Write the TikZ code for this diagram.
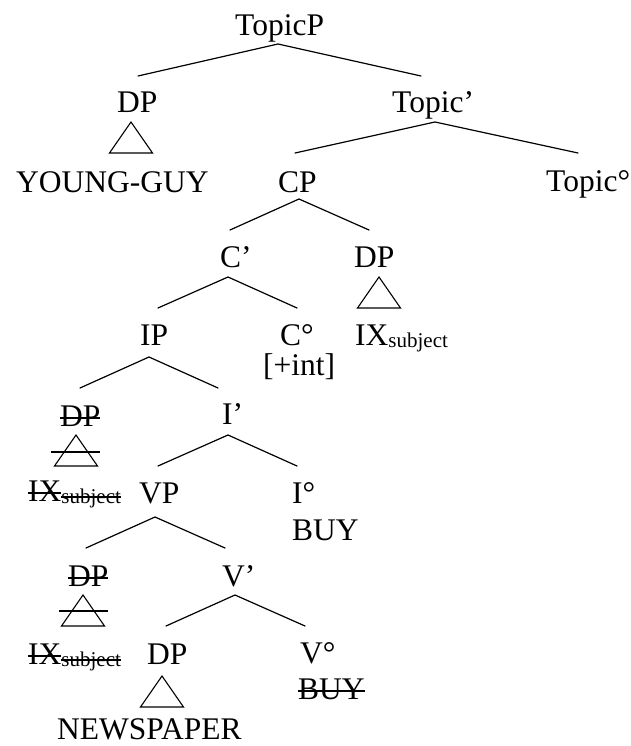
\documentclass[tikz,border=0pt]{standalone}
\usepackage{fontspec}
\setmainfont{Liberation Serif}
% subscript size
\newcommand\subsz{\fontsize{21}{21}\selectfont}
% strike a text through at a given height above its baseline
\newcommand\strikeat[2]{\setbox0\hbox{#2}\rlap{\rule[#1]{\wd0}{1.8pt}}\box0}
\begin{document}
\begin{tikzpicture}[x=1pt,y=-1pt,
  lbl/.style={anchor=base west, inner sep=0pt, font=\fontsize{31.5}{31.5}\selectfont},
  edge/.style={line width=1.2pt, line cap=round},
  strike/.style={line width=1.8pt}]
\useasboundingbox (0,0) rectangle (631,746);

% labels
\node[lbl] (topicp)    at (235,36)  {TopicP};
\node[lbl] (dpa)       at (117,113) {DP};
\node[lbl] (topicbar)  at (392,113) {Topic’};
\node[lbl] (younguy)   at (16,192)  {YOUNG-GUY};
\node[lbl] (cp)        at (278,192) {CP};
\node[lbl] (topichead) at (546,191) {Topic°};
\node[lbl] (cbar)      at (220,267) {C’};
\node[lbl] (dpb)       at (354,267) {DP};
\node[lbl] (ip)        at (140,345) {IP};
\node[lbl] (chead)     at (280,345) {C°};
\node[lbl] (ixb)       at (355,345) {IX\raisebox{-2pt}{\subsz subject}};
\node[lbl] (int)       at (263,375) {[+int]};
\node[lbl] (dpc)       at (60,426)  {\strikeat{7.5pt}{DP}};
\node[lbl] (ibar)      at (222,424) {I’};
\node[lbl] (ixc)       at (28,501)  {\strikeat{7pt}{IX}\raisebox{-2pt}{\subsz\strikeat{5pt}{subject}}};
\node[lbl] (vp)        at (139,503) {VP};
\node[lbl] (ihead)     at (292,503) {I°};
\node[lbl] (buy)       at (292,540) {BUY};
\node[lbl] (dpd)       at (68,586)  {\strikeat{7.5pt}{DP}};
\node[lbl] (vbar)      at (222,586) {V’};
\node[lbl] (ixd)       at (28,664)  {\strikeat{7pt}{IX}\raisebox{-2pt}{\subsz\strikeat{5pt}{subject}}};
\node[lbl] (dpe)       at (147,664) {DP};
\node[lbl] (vhead)     at (300,663) {V°};
\node[lbl] (buyd)      at (298,699) {\strikeat{7.5pt}{BUY}};
\node[lbl] (newspaper) at (57,739)  {NEWSPAPER};

% branch points
\coordinate (topicp-a) at (278,44);  \coordinate (topicp-l) at (138,76);  \coordinate (topicp-r) at (421,76);
\coordinate (tbar-a)   at (435,122); \coordinate (tbar-l)   at (295,153); \coordinate (tbar-r)   at (578,153);
\coordinate (cp-a)     at (299,199); \coordinate (cp-l)     at (230,230); \coordinate (cp-r)     at (369,230);
\coordinate (cbar-a)   at (228,277); \coordinate (cbar-l)   at (158,308); \coordinate (cbar-r)   at (297,308);
\coordinate (ip-a)     at (149,357); \coordinate (ip-l)     at (80,388);  \coordinate (ip-r)     at (218,388);
\coordinate (ibar-a)   at (228,435); \coordinate (ibar-l)   at (158,466); \coordinate (ibar-r)   at (297,466);
\coordinate (vp-a)     at (155,517); \coordinate (vp-l)     at (86,548);  \coordinate (vp-r)     at (225,548);
\coordinate (vbar-a)   at (235,595); \coordinate (vbar-l)   at (166,626); \coordinate (vbar-r)   at (305,626);

\draw[edge] (topicp-l) -- (topicp-a) -- (topicp-r);
\draw[edge] (tbar-l) -- (tbar-a) -- (tbar-r);
\draw[edge] (cp-l) -- (cp-a) -- (cp-r);
\draw[edge] (cbar-l) -- (cbar-a) -- (cbar-r);
\draw[edge] (ip-l) -- (ip-a) -- (ip-r);
\draw[edge] (ibar-l) -- (ibar-a) -- (ibar-r);
\draw[edge] (vp-l) -- (vp-a) -- (vp-r);
\draw[edge] (vbar-l) -- (vbar-a) -- (vbar-r);

% roof triangles
\coordinate (roof-a) at (131,122);
\coordinate (roof-b) at (379,277);
\coordinate (roof-c) at (76,435);
\coordinate (roof-d) at (83,595);
\coordinate (roof-e) at (162,676);
\foreach \r in {a,b,c,d,e}
  \draw[line width=1.1pt, line join=miter] (roof-\r) -- ++(-21.5,31) -- ++(43,0) -- cycle;
\draw[strike] ([xshift=-25pt,yshift=-17pt]roof-c) -- ++(49,0);
\draw[strike] ([xshift=-24pt,yshift=-16pt]roof-d) -- ++(49,0);
\end{tikzpicture}
\end{document}
